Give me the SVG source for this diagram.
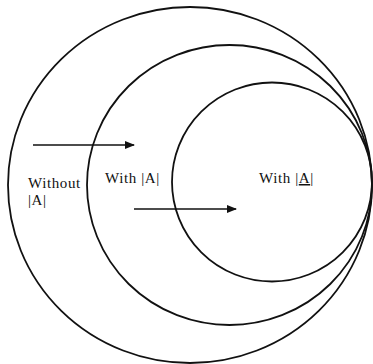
<svg xmlns="http://www.w3.org/2000/svg" width="373" height="364" viewBox="0 0 373 364">
<style>
.c{fill:none;stroke:#111;stroke-width:1.8}
.a{fill:none;stroke:#111;stroke-width:1.6}
.t{font-family:"Liberation Serif","Times New Roman",serif;font-size:15px;fill:#111;letter-spacing:0.6px}
</style>
<defs>
<marker id="ah" viewBox="0 0 10 8" refX="9" refY="4" markerWidth="10" markerHeight="8" markerUnits="userSpaceOnUse" orient="auto">
<path d="M0,0 L10,4 L0,8 Z" fill="#111"/>
</marker>
</defs>
<rect width="373" height="364" fill="#fff"/>
<g id="outer"><ellipse class="c" cx="190" cy="185" rx="182" ry="178"/>
<text class="t" x="28" y="188">Without</text><text class="t" x="28" y="205">|A|</text></g>
<g id="middle"><ellipse class="c" cx="229.5" cy="185" rx="142.5" ry="140"/>
<text class="t" x="105" y="183">With |A|</text></g>
<g id="inner"><ellipse class="c" cx="272" cy="182" rx="100" ry="99.5"/>
<text class="t" x="259" y="183">With |<tspan text-decoration="underline">A</tspan>|</text></g>
<g id="connectors">
<line class="a" x1="33" y1="145" x2="134" y2="145" marker-end="url(#ah)"/>
<line class="a" x1="134" y1="209" x2="236" y2="209" marker-end="url(#ah)"/>
</g>
</svg>
